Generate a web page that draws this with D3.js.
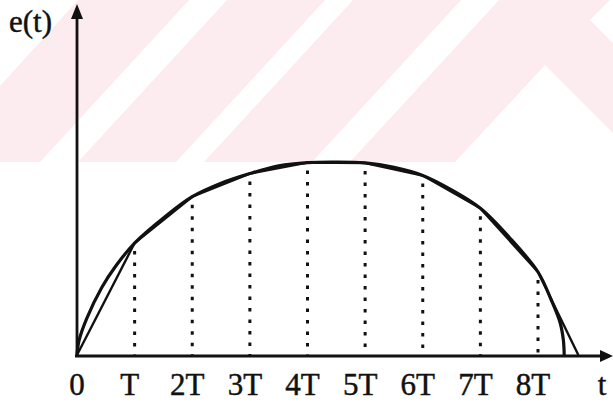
<!DOCTYPE html>
<html>
<head>
<meta charset="utf-8">
<script src="https://cdn.jsdelivr.net/npm/d3@7"></script>
<style>
  html, body { margin: 0; padding: 0; background: #fff; }
  svg { display: block; }
  text { font-family: "Liberation Serif", "Times New Roman", serif; fill: #111; stroke: #111; stroke-width: 0.45; }
</style>
</head>
<body>
<svg id="chart" width="613" height="405"></svg>
<script>
// Sampling instants, in multiples of the period T, and their axis labels
const tickValues = [0, 1, 2, 3, 4, 5, 6, 7, 8];
const tickLabels = ["0", "T", "2T", "3T", "4T", "5T", "6T", "7T", "8T"];

// Sampled values e(kT) - vertices of the piecewise-linear approximation
const sampleE = [0, 0.58, 0.82, 0.94, 0.997, 0.995, 0.93, 0.76, 0.43];
// Last linear segment runs down to the axis here
const linearEndT = 8.7;

// Continuous signal e(t)
const curveT = [0, 0.035, 0.17, 0.43, 0.67, 1, 1.5, 2, 2.5, 3, 3.5, 4, 4.5, 5, 5.5, 6, 6.5, 7, 7.5, 8, 8.23, 8.385, 8.44, 8.455];
const curveE = [0, 0.075, 0.19, 0.35, 0.46, 0.58, 0.71, 0.82, 0.89, 0.94, 0.98, 0.997, 1.0, 0.995, 0.972, 0.93, 0.855, 0.76, 0.61, 0.43, 0.285, 0.166, 0.078, 0];

const W = 613, H = 405;
const svg = d3.select("#chart");

// Background band pattern
const band = svg.append("g");
const bandBottom = 162;
band.append("rect").attr("x", 0).attr("y", 0).attr("width", W).attr("height", bandBottom).attr("fill", "#fdecef");
const sl = 0.92;
const stripe = (b0, b1) => [[b0, bandBottom], [b1, bandBottom], [b1 + sl * bandBottom, 0], [b0 + sl * bandBottom, 0]];
const gaps = [
  [[0, 0], [78, 0], [0, 86]],
  stripe(40, 78),
  stripe(176, 204),
  stripe(312, 350),
  [[455, bandBottom], [545, 65], [W, 133], [W, bandBottom]],
  [[590, 20], [610, 0], [W, 0], [W, 43]]
];
band.selectAll("polygon").data(gaps).join("polygon")
  .attr("points", d => d.map(p => p.join(",")).join(" "))
  .attr("fill", "#fff");

// Scales
const x = d3.scaleLinear().domain([0, 8]).range([77, 538]);
const y = d3.scaleLinear().domain([0, 1]).range([355, 162]);

// Dotted sampling lines
svg.append("g").selectAll("line").data(tickValues.slice(1)).join("line")
  .attr("x1", d => x(d)).attr("x2", d => x(d))
  .attr("y1", d => y(sampleE[d]) + 8).attr("y2", y(0))
  .attr("stroke", "#111").attr("stroke-width", 3)
  .attr("stroke-dasharray", "3.5 8");

// Continuous curve
const pts = curveT.map((t, i) => [t, curveE[i]]);
svg.append("path")
  .attr("d", d3.line().x(d => x(d[0])).y(d => y(d[1])).curve(d3.curveCatmullRom.alpha(0.5))(pts))
  .attr("fill", "none").attr("stroke", "#111").attr("stroke-width", 3.2);

// Piecewise-linear approximation
const lin = tickValues.map(t => [t, sampleE[t]]).concat([[linearEndT, 0]]);
svg.append("path")
  .attr("d", d3.line().x(d => x(d[0])).y(d => y(d[1]))(lin))
  .attr("fill", "none").attr("stroke", "#111").attr("stroke-width", 2.4)
  .attr("stroke-linejoin", "round");

// Axes with arrowheads
const ox = x(0), oy = y(0) + 1;
svg.append("line").attr("x1", ox).attr("y1", oy).attr("x2", ox).attr("y2", 16)
  .attr("stroke", "#111").attr("stroke-width", 2.8);
svg.append("polygon").attr("points", `${ox},4 ${ox - 6},19 ${ox + 6},19`).attr("fill", "#111");
svg.append("line").attr("x1", ox - 2).attr("y1", oy).attr("x2", W - 10).attr("y2", oy)
  .attr("stroke", "#111").attr("stroke-width", 2.8);
svg.append("polygon").attr("points", `${W},${oy} ${W - 13},${oy - 6} ${W - 13},${oy + 6}`).attr("fill", "#111");

// Tick labels
svg.append("g").selectAll("text").data(tickValues).join("text")
  .attr("x", d => x(d) + (d === 0 ? 0 : -5))
  .attr("y", 395)
  .attr("text-anchor", "middle")
  .attr("font-size", 31)
  .text((d, i) => tickLabels[i]);

// Axis titles
svg.append("text").attr("x", 602).attr("y", 395).attr("text-anchor", "middle").attr("font-size", 31).text("t");
svg.append("text").attr("x", 9).attr("y", 32).attr("font-size", 31).text("e(t)");
</script>
</body>
</html>
